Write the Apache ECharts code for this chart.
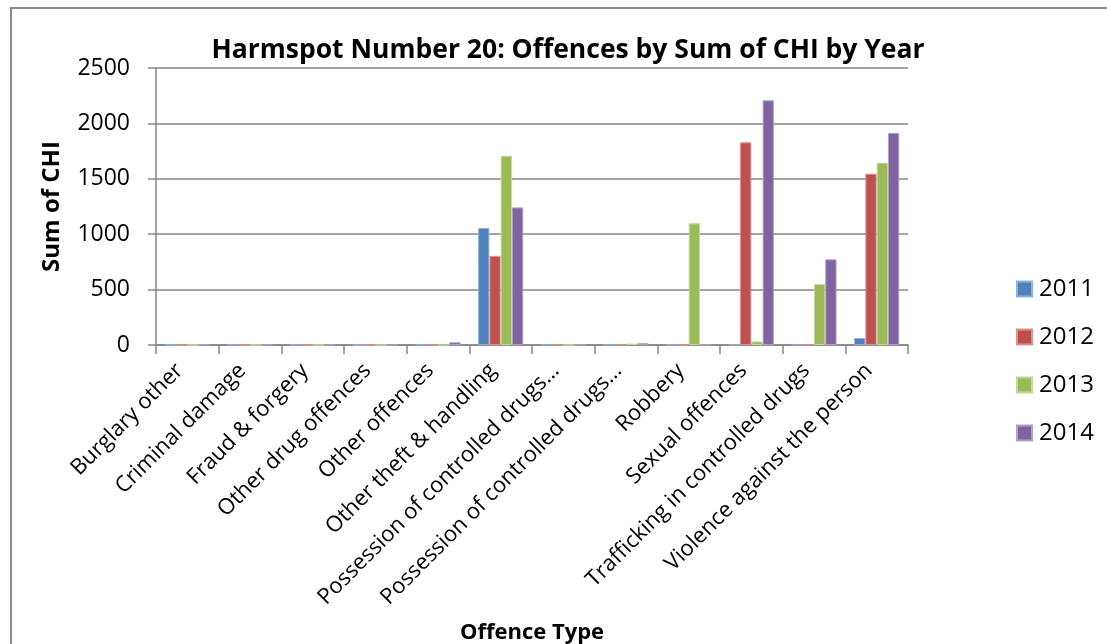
<!DOCTYPE html>
<html>
<head>
<meta charset="utf-8">
<script src="https://cdn.jsdelivr.net/npm/echarts@6/dist/echarts.min.js"></script>
<style>
  html, body { margin: 0; padding: 0; background: #ffffff; }
  #chart { width: 1107px; height: 644px; }
</style>
</head>
<body>
<div id="chart"></div>
<script>
// Offence categories along the x axis
const categories = [
  'Burglary other',
  'Criminal damage',
  'Fraud & forgery',
  'Other drug offences',
  'Other offences',
  'Other theft & handling',
  'Possession of controlled drugs…',
  'Possession of controlled drugs…',
  'Robbery',
  'Sexual offences',
  'Trafficking in controlled drugs',
  'Violence against the person'
];

// Sum of CHI per year, one value per category
const years = ['2011', '2012', '2013', '2014'];
const values2011 = [0, 0, 0, 0, 0, 1055, 0, 0, 0, 0, 0, 63];
const values2012 = [0, 0, 0, 0, 3, 805, 0, 0, 0, 1829, 4, 1546];
const values2013 = [0, 0, 0, 0, 0, 1708, 0, 12, 1098, 32, 550, 1645];
const values2014 = [3, 0, 0, 0, 25, 1242, 0, 16, 0, 2208, 773, 1914];

const yTicks = [0, 500, 1000, 1500, 2000, 2500];

const seriesValues = [values2011, values2012, values2013, values2014];
const colors = ['#4F81BD', '#C0504D', '#9BBB59', '#8064A2'];
const edgeColors = ['#8FB0D8', '#DA9391', '#C2D79C', '#B09FC6'];

const FONT = '"Open Sans", Lato, sans-serif';
const AXIS_GREY = '#868686';

const chart = echarts.init(document.getElementById('chart'), null, { renderer: 'canvas' });

chart.setOption({
  backgroundColor: '#ffffff',
  animation: false,
  color: colors,
  title: {
    text: 'Harmspot Number 20: Offences by Sum of CHI by Year',
    left: 563,
    top: 32,
    textAlign: 'center',
    textStyle: { fontFamily: FONT, fontWeight: 'bold', fontSize: 26.5, color: '#000000' }
  },
  legend: {
    orient: 'vertical',
    left: 1016,
    top: 277,
    padding: 0,
    itemWidth: 15,
    itemHeight: 15,
    itemGap: 24,
    icon: 'rect',
    data: years,
    textStyle: { fontFamily: FONT, fontSize: 24, color: '#000000', lineHeight: 24, padding: [0, 0, 0, 2] }
  },
  grid: {
    left: 156, right: 199, top: 68, bottom: 299,
    containLabel: false,
    outerBoundsMode: 'none'
  },
  xAxis: {
    type: 'category',
    data: categories,
    name: 'Offence Type',
    nameLocation: 'middle',
    nameGap: 277,
    nameTextStyle: { fontFamily: FONT, fontWeight: 'bold', fontSize: 22, color: '#000000' },
    axisLine: { lineStyle: { color: AXIS_GREY, width: 1.5 } },
    axisTick: { show: true, length: 9, alignWithLabel: false, lineStyle: { color: AXIS_GREY, width: 1.5 } },
    axisLabel: {
      interval: 0,
      rotate: 45,
      margin: 30,
      verticalAlign: 'bottom',
      fontFamily: FONT,
      fontSize: 22,
      color: '#000000'
    }
  },
  yAxis: {
    type: 'value',
    min: yTicks[0],
    max: yTicks[yTicks.length - 1],
    interval: 500,
    name: 'Sum of CHI',
    nameLocation: 'middle',
    nameGap: 92,
    nameRotate: 90,
    nameTextStyle: { fontFamily: FONT, fontWeight: 'bold', fontSize: 24, color: '#000000' },
    axisLine: { show: true, lineStyle: { color: AXIS_GREY, width: 1.5 } },
    axisTick: { show: true, inside: false, length: 8, lineStyle: { color: AXIS_GREY, width: 1.5 } },
    axisLabel: {
      margin: 26,
      fontFamily: FONT,
      fontSize: 23,
      color: '#000000',
      formatter: (v) => String(v)
    },
    splitLine: { show: true, lineStyle: { color: AXIS_GREY, width: 1.5 } }
  },
  series: years.map((y, i) => ({
    name: y,
    type: 'bar',
    data: seriesValues[i],
    barGap: '0%',
    barCategoryGap: '28%',
    itemStyle: { color: colors[i], borderColor: edgeColors[i], borderWidth: 1 }
  })),
  graphic: [
    {
      type: 'rect',
      silent: true,
      z: -1,
      shape: { x: 11, y: 8, width: 1200, height: 700 },
      style: { fill: 'none', stroke: '#8c8c8c', lineWidth: 2 }
    }
  ]
});
</script>
</body>
</html>
